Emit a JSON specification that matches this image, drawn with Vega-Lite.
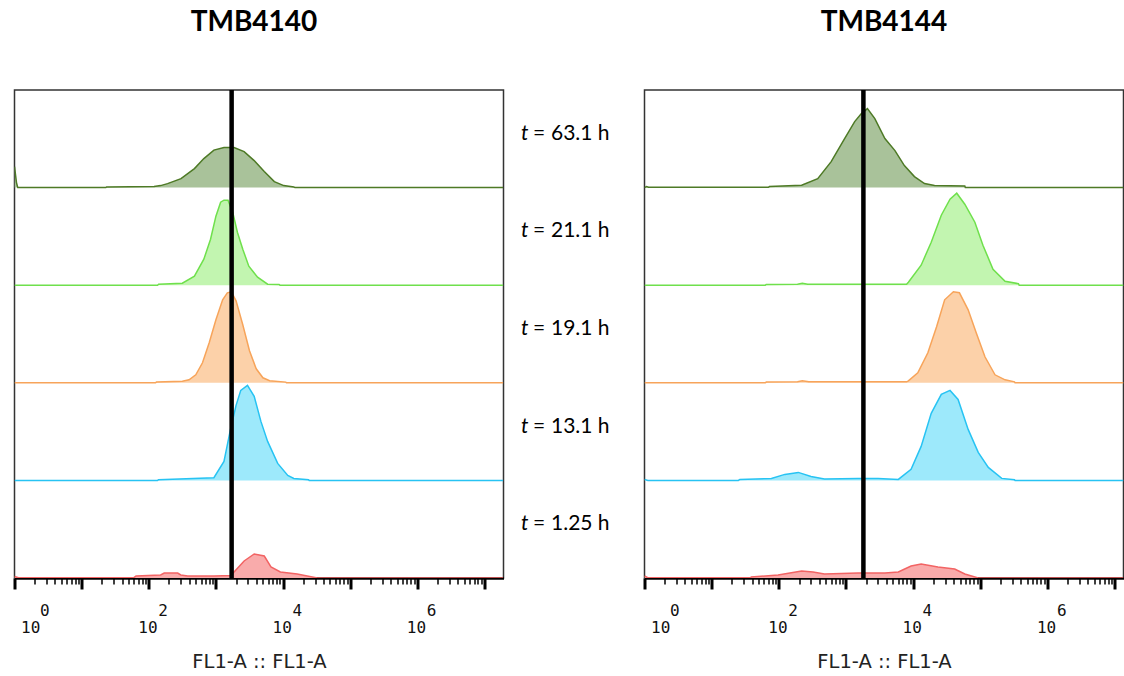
{
  "$schema": "https://vega.github.io/schema/vega-lite/v6.json",
  "padding": {"left": 11.5, "top": 8, "right": 0, "bottom": 0},
  "spacing": 0,
  "bounds": "flush",
  "config": {"view": {"stroke": "#333", "strokeWidth": 1.5}, "font": "Lato"},
  "datasets": {
    "hist": [
      {"panel":"TMB4140","series":"63.1 h","fl1":1,"count":21},
      {"panel":"TMB4140","series":"63.1 h","fl1":1.07,"count":5},
      {"panel":"TMB4140","series":"63.1 h","fl1":1.12,"count":0},
      {"panel":"TMB4140","series":"63.1 h","fl1":22.9,"count":0},
      {"panel":"TMB4140","series":"63.1 h","fl1":23.5,"count":0.7},
      {"panel":"TMB4140","series":"63.1 h","fl1":120,"count":1},
      {"panel":"TMB4140","series":"63.1 h","fl1":150,"count":2},
      {"panel":"TMB4140","series":"63.1 h","fl1":190.5,"count":4},
      {"panel":"TMB4140","series":"63.1 h","fl1":302,"count":9},
      {"panel":"TMB4140","series":"63.1 h","fl1":478.6,"count":19},
      {"panel":"TMB4140","series":"63.1 h","fl1":660.7,"count":29},
      {"panel":"TMB4140","series":"63.1 h","fl1":933,"count":37.5},
      {"panel":"TMB4140","series":"63.1 h","fl1":1318,"count":40},
      {"panel":"TMB4140","series":"63.1 h","fl1":1862,"count":40},
      {"panel":"TMB4140","series":"63.1 h","fl1":2630,"count":36},
      {"panel":"TMB4140","series":"63.1 h","fl1":3715,"count":27},
      {"panel":"TMB4140","series":"63.1 h","fl1":5248,"count":16},
      {"panel":"TMB4140","series":"63.1 h","fl1":7413,"count":6},
      {"panel":"TMB4140","series":"63.1 h","fl1":10233,"count":2},
      {"panel":"TMB4140","series":"63.1 h","fl1":14454,"count":0.7},
      {"panel":"TMB4140","series":"63.1 h","fl1":15000,"count":0},
      {"panel":"TMB4140","series":"63.1 h","fl1":19000000,"count":0},

      {"panel":"TMB4140","series":"21.1 h","fl1":1,"count":0},
      {"panel":"TMB4140","series":"21.1 h","fl1":134.9,"count":0},
      {"panel":"TMB4140","series":"21.1 h","fl1":140,"count":1},
      {"panel":"TMB4140","series":"21.1 h","fl1":316.2,"count":2},
      {"panel":"TMB4140","series":"21.1 h","fl1":478.6,"count":9},
      {"panel":"TMB4140","series":"21.1 h","fl1":660.7,"count":26},
      {"panel":"TMB4140","series":"21.1 h","fl1":831.8,"count":46},
      {"panel":"TMB4140","series":"21.1 h","fl1":1000,"count":69},
      {"panel":"TMB4140","series":"21.1 h","fl1":1175,"count":83},
      {"panel":"TMB4140","series":"21.1 h","fl1":1318,"count":85},
      {"panel":"TMB4140","series":"21.1 h","fl1":1514,"count":85},
      {"panel":"TMB4140","series":"21.1 h","fl1":1778,"count":73},
      {"panel":"TMB4140","series":"21.1 h","fl1":2089,"count":53},
      {"panel":"TMB4140","series":"21.1 h","fl1":2512,"count":36},
      {"panel":"TMB4140","series":"21.1 h","fl1":3090,"count":19},
      {"panel":"TMB4140","series":"21.1 h","fl1":4169,"count":8},
      {"panel":"TMB4140","series":"21.1 h","fl1":5888,"count":1},
      {"panel":"TMB4140","series":"21.1 h","fl1":8710,"count":0.7},
      {"panel":"TMB4140","series":"21.1 h","fl1":9000,"count":0},
      {"panel":"TMB4140","series":"21.1 h","fl1":19000000,"count":0},

      {"panel":"TMB4140","series":"19.1 h","fl1":1,"count":0},
      {"panel":"TMB4140","series":"19.1 h","fl1":125.9,"count":0},
      {"panel":"TMB4140","series":"19.1 h","fl1":130,"count":0.7},
      {"panel":"TMB4140","series":"19.1 h","fl1":316.2,"count":1.5},
      {"panel":"TMB4140","series":"19.1 h","fl1":398.1,"count":3},
      {"panel":"TMB4140","series":"19.1 h","fl1":501.2,"count":8},
      {"panel":"TMB4140","series":"19.1 h","fl1":631,"count":20},
      {"panel":"TMB4140","series":"19.1 h","fl1":794.3,"count":40},
      {"panel":"TMB4140","series":"19.1 h","fl1":1000,"count":63},
      {"panel":"TMB4140","series":"19.1 h","fl1":1259,"count":83},
      {"panel":"TMB4140","series":"19.1 h","fl1":1479,"count":90},
      {"panel":"TMB4140","series":"19.1 h","fl1":1698,"count":91},
      {"panel":"TMB4140","series":"19.1 h","fl1":1995,"count":82},
      {"panel":"TMB4140","series":"19.1 h","fl1":2512,"count":58},
      {"panel":"TMB4140","series":"19.1 h","fl1":3162,"count":32},
      {"panel":"TMB4140","series":"19.1 h","fl1":3981,"count":14},
      {"panel":"TMB4140","series":"19.1 h","fl1":5012,"count":5},
      {"panel":"TMB4140","series":"19.1 h","fl1":6310,"count":2},
      {"panel":"TMB4140","series":"19.1 h","fl1":10965,"count":0.7},
      {"panel":"TMB4140","series":"19.1 h","fl1":11220,"count":0},
      {"panel":"TMB4140","series":"19.1 h","fl1":19000000,"count":0},

      {"panel":"TMB4140","series":"13.1 h","fl1":1,"count":0},
      {"panel":"TMB4140","series":"13.1 h","fl1":134.9,"count":0},
      {"panel":"TMB4140","series":"13.1 h","fl1":140,"count":0.7},
      {"panel":"TMB4140","series":"13.1 h","fl1":933,"count":2.7},
      {"panel":"TMB4140","series":"13.1 h","fl1":1318,"count":19},
      {"panel":"TMB4140","series":"13.1 h","fl1":1660,"count":52},
      {"panel":"TMB4140","series":"13.1 h","fl1":1995,"count":75},
      {"panel":"TMB4140","series":"13.1 h","fl1":2344,"count":90},
      {"panel":"TMB4140","series":"13.1 h","fl1":2951,"count":95},
      {"panel":"TMB4140","series":"13.1 h","fl1":3715,"count":84},
      {"panel":"TMB4140","series":"13.1 h","fl1":4677,"count":59},
      {"panel":"TMB4140","series":"13.1 h","fl1":5888,"count":39},
      {"panel":"TMB4140","series":"13.1 h","fl1":8318,"count":17},
      {"panel":"TMB4140","series":"13.1 h","fl1":11749,"count":5},
      {"panel":"TMB4140","series":"13.1 h","fl1":14454,"count":2},
      {"panel":"TMB4140","series":"13.1 h","fl1":23988,"count":0.7},
      {"panel":"TMB4140","series":"13.1 h","fl1":24500,"count":0},
      {"panel":"TMB4140","series":"13.1 h","fl1":19000000,"count":0},

      {"panel":"TMB4140","series":"1.25 h","fl1":1,"count":1.5},
      {"panel":"TMB4140","series":"1.25 h","fl1":1.15,"count":0.3},
      {"panel":"TMB4140","series":"1.25 h","fl1":60,"count":0.3},
      {"panel":"TMB4140","series":"1.25 h","fl1":64.6,"count":2},
      {"panel":"TMB4140","series":"1.25 h","fl1":150,"count":3},
      {"panel":"TMB4140","series":"1.25 h","fl1":169.8,"count":5},
      {"panel":"TMB4140","series":"1.25 h","fl1":269.2,"count":5},
      {"panel":"TMB4140","series":"1.25 h","fl1":300,"count":3},
      {"panel":"TMB4140","series":"1.25 h","fl1":380.2,"count":2},
      {"panel":"TMB4140","series":"1.25 h","fl1":933,"count":2},
      {"panel":"TMB4140","series":"1.25 h","fl1":1700,"count":2.5},
      {"panel":"TMB4140","series":"1.25 h","fl1":1862,"count":6},
      {"panel":"TMB4140","series":"1.25 h","fl1":2630,"count":17},
      {"panel":"TMB4140","series":"1.25 h","fl1":3715,"count":24},
      {"panel":"TMB4140","series":"1.25 h","fl1":5248,"count":22},
      {"panel":"TMB4140","series":"1.25 h","fl1":6607,"count":11},
      {"panel":"TMB4140","series":"1.25 h","fl1":9120,"count":6},
      {"panel":"TMB4140","series":"1.25 h","fl1":16218,"count":4},
      {"panel":"TMB4140","series":"1.25 h","fl1":25000,"count":1.5},
      {"panel":"TMB4140","series":"1.25 h","fl1":32359,"count":0},
      {"panel":"TMB4140","series":"1.25 h","fl1":19000000,"count":0},

      {"panel":"TMB4144","series":"63.1 h","fl1":1,"count":0},
      {"panel":"TMB4144","series":"63.1 h","fl1":1.07,"count":1},
      {"panel":"TMB4144","series":"63.1 h","fl1":1.15,"count":0.3},
      {"panel":"TMB4144","series":"63.1 h","fl1":70,"count":0.3},
      {"panel":"TMB4144","series":"63.1 h","fl1":72.4,"count":1},
      {"panel":"TMB4144","series":"63.1 h","fl1":218.8,"count":2.3},
      {"panel":"TMB4144","series":"63.1 h","fl1":380.2,"count":9},
      {"panel":"TMB4144","series":"63.1 h","fl1":602.6,"count":26},
      {"panel":"TMB4144","series":"63.1 h","fl1":955,"count":49},
      {"panel":"TMB4144","series":"63.1 h","fl1":1349,"count":66},
      {"panel":"TMB4144","series":"63.1 h","fl1":1698,"count":74},
      {"panel":"TMB4144","series":"63.1 h","fl1":2089,"count":79},
      {"panel":"TMB4144","series":"63.1 h","fl1":2692,"count":69},
      {"panel":"TMB4144","series":"63.1 h","fl1":3802,"count":49},
      {"panel":"TMB4144","series":"63.1 h","fl1":5370,"count":37},
      {"panel":"TMB4144","series":"63.1 h","fl1":7413,"count":22},
      {"panel":"TMB4144","series":"63.1 h","fl1":10471,"count":11},
      {"panel":"TMB4144","series":"63.1 h","fl1":14791,"count":4},
      {"panel":"TMB4144","series":"63.1 h","fl1":20893,"count":2},
      {"panel":"TMB4144","series":"63.1 h","fl1":58884,"count":1.5},
      {"panel":"TMB4144","series":"63.1 h","fl1":60000,"count":0},
      {"panel":"TMB4144","series":"63.1 h","fl1":13600000,"count":0},

      {"panel":"TMB4144","series":"21.1 h","fl1":1,"count":0},
      {"panel":"TMB4144","series":"21.1 h","fl1":63,"count":0},
      {"panel":"TMB4144","series":"21.1 h","fl1":65,"count":0.7},
      {"panel":"TMB4144","series":"21.1 h","fl1":190,"count":1},
      {"panel":"TMB4144","series":"21.1 h","fl1":223.9,"count":2},
      {"panel":"TMB4144","series":"21.1 h","fl1":270,"count":1},
      {"panel":"TMB4144","series":"21.1 h","fl1":8000,"count":1},
      {"panel":"TMB4144","series":"21.1 h","fl1":8511,"count":3},
      {"panel":"TMB4144","series":"21.1 h","fl1":13183,"count":20},
      {"panel":"TMB4144","series":"21.1 h","fl1":18621,"count":43},
      {"panel":"TMB4144","series":"21.1 h","fl1":26303,"count":70},
      {"panel":"TMB4144","series":"21.1 h","fl1":35481,"count":86},
      {"panel":"TMB4144","series":"21.1 h","fl1":44668,"count":92},
      {"panel":"TMB4144","series":"21.1 h","fl1":58884,"count":81},
      {"panel":"TMB4144","series":"21.1 h","fl1":83176,"count":63},
      {"panel":"TMB4144","series":"21.1 h","fl1":109648,"count":40},
      {"panel":"TMB4144","series":"21.1 h","fl1":154882,"count":16},
      {"panel":"TMB4144","series":"21.1 h","fl1":234423,"count":4},
      {"panel":"TMB4144","series":"21.1 h","fl1":370000,"count":1.5},
      {"panel":"TMB4144","series":"21.1 h","fl1":380189,"count":0},
      {"panel":"TMB4144","series":"21.1 h","fl1":13600000,"count":0},

      {"panel":"TMB4144","series":"19.1 h","fl1":1,"count":0},
      {"panel":"TMB4144","series":"19.1 h","fl1":63,"count":0},
      {"panel":"TMB4144","series":"19.1 h","fl1":65,"count":0.7},
      {"panel":"TMB4144","series":"19.1 h","fl1":190,"count":1},
      {"panel":"TMB4144","series":"19.1 h","fl1":223.9,"count":2},
      {"panel":"TMB4144","series":"19.1 h","fl1":280,"count":1},
      {"panel":"TMB4144","series":"19.1 h","fl1":8000,"count":1},
      {"panel":"TMB4144","series":"19.1 h","fl1":8511,"count":2},
      {"panel":"TMB4144","series":"19.1 h","fl1":11749,"count":10},
      {"panel":"TMB4144","series":"19.1 h","fl1":16596,"count":30},
      {"panel":"TMB4144","series":"19.1 h","fl1":22387,"count":56},
      {"panel":"TMB4144","series":"19.1 h","fl1":29512,"count":83},
      {"panel":"TMB4144","series":"19.1 h","fl1":39811,"count":91},
      {"panel":"TMB4144","series":"19.1 h","fl1":48978,"count":90},
      {"panel":"TMB4144","series":"19.1 h","fl1":66069,"count":73},
      {"panel":"TMB4144","series":"19.1 h","fl1":87096,"count":50},
      {"panel":"TMB4144","series":"19.1 h","fl1":117490,"count":26},
      {"panel":"TMB4144","series":"19.1 h","fl1":165959,"count":8},
      {"panel":"TMB4144","series":"19.1 h","fl1":234423,"count":3},
      {"panel":"TMB4144","series":"19.1 h","fl1":323594,"count":1},
      {"panel":"TMB4144","series":"19.1 h","fl1":330000,"count":0},
      {"panel":"TMB4144","series":"19.1 h","fl1":13600000,"count":0},

      {"panel":"TMB4144","series":"13.1 h","fl1":1,"count":1},
      {"panel":"TMB4144","series":"13.1 h","fl1":1.12,"count":0},
      {"panel":"TMB4144","series":"13.1 h","fl1":25,"count":0},
      {"panel":"TMB4144","series":"13.1 h","fl1":26.3,"count":1},
      {"panel":"TMB4144","series":"13.1 h","fl1":77.6,"count":2},
      {"panel":"TMB4144","series":"13.1 h","fl1":123,"count":6},
      {"panel":"TMB4144","series":"13.1 h","fl1":195,"count":8},
      {"panel":"TMB4144","series":"13.1 h","fl1":302,"count":4},
      {"panel":"TMB4144","series":"13.1 h","fl1":478.6,"count":1.5},
      {"panel":"TMB4144","series":"13.1 h","fl1":1514,"count":2},
      {"panel":"TMB4144","series":"13.1 h","fl1":3020,"count":2},
      {"panel":"TMB4144","series":"13.1 h","fl1":6026,"count":1},
      {"panel":"TMB4144","series":"13.1 h","fl1":9333,"count":11},
      {"panel":"TMB4144","series":"13.1 h","fl1":13183,"count":34},
      {"panel":"TMB4144","series":"13.1 h","fl1":18621,"count":67},
      {"panel":"TMB4144","series":"13.1 h","fl1":26303,"count":86},
      {"panel":"TMB4144","series":"13.1 h","fl1":35481,"count":90},
      {"panel":"TMB4144","series":"13.1 h","fl1":46774,"count":81},
      {"panel":"TMB4144","series":"13.1 h","fl1":66069,"count":51},
      {"panel":"TMB4144","series":"13.1 h","fl1":93325,"count":28},
      {"panel":"TMB4144","series":"13.1 h","fl1":131826,"count":13},
      {"panel":"TMB4144","series":"13.1 h","fl1":208930,"count":2},
      {"panel":"TMB4144","series":"13.1 h","fl1":323594,"count":0.7},
      {"panel":"TMB4144","series":"13.1 h","fl1":330000,"count":0},
      {"panel":"TMB4144","series":"13.1 h","fl1":13600000,"count":0},

      {"panel":"TMB4144","series":"1.25 h","fl1":1,"count":2},
      {"panel":"TMB4144","series":"1.25 h","fl1":1.12,"count":0.3},
      {"panel":"TMB4144","series":"1.25 h","fl1":38,"count":0.3},
      {"panel":"TMB4144","series":"1.25 h","fl1":38.9,"count":1},
      {"panel":"TMB4144","series":"1.25 h","fl1":97.7,"count":3},
      {"panel":"TMB4144","series":"1.25 h","fl1":218.8,"count":7},
      {"panel":"TMB4144","series":"1.25 h","fl1":323.6,"count":6},
      {"panel":"TMB4144","series":"1.25 h","fl1":478.6,"count":4},
      {"panel":"TMB4144","series":"1.25 h","fl1":1514,"count":5},
      {"panel":"TMB4144","series":"1.25 h","fl1":3802,"count":5},
      {"panel":"TMB4144","series":"1.25 h","fl1":6026,"count":6},
      {"panel":"TMB4144","series":"1.25 h","fl1":9333,"count":12},
      {"panel":"TMB4144","series":"1.25 h","fl1":13183,"count":14},
      {"panel":"TMB4144","series":"1.25 h","fl1":23442,"count":11},
      {"panel":"TMB4144","series":"1.25 h","fl1":41687,"count":9},
      {"panel":"TMB4144","series":"1.25 h","fl1":58884,"count":4},
      {"panel":"TMB4144","series":"1.25 h","fl1":93325,"count":0},
      {"panel":"TMB4144","series":"1.25 h","fl1":13600000,"count":0}
    ]
  },
  "hconcat": [
    {
      "width": 489,
      "height": 488,
      "title": {"text": "TMB4140", "font": "Lato", "fontSize": 28, "fontWeight": "bold", "color": "#000", "anchor": "middle", "offset": 51, "dx": -5},
      "encoding": {
        "x": {"field": "fl1", "type": "quantitative", "scale": {"type": "log", "domain": [1, 19200000], "nice": false}, "axis": null}
      },
      "layer": [
        {"data": {"name": "hist"}, "transform": [{"filter": "datum.panel === 'TMB4140' && datum.series === '63.1 h'"}],
         "mark": {"type": "area", "color": "#a9c29a", "opacity": 1, "line": {"color": "#4e7a26", "strokeWidth": 1.5}, "clip": true},
         "encoding": {
           "x": {
             "field": "fl1", "type": "quantitative", "scale": {"type": "log", "domain": [1, 19200000], "nice": false},
             "axis": {
               "orient": "bottom",
               "title": "FL1-A :: FL1-A", "titleFont": "DejaVu Sans", "titleFontSize": 19.5, "titleFontWeight": "normal", "titleColor": "#222", "titlePadding": 17,
               "values": [1,2,3,4,5,6,7,8,9,10,20,30,40,50,60,70,80,90,100,200,300,400,500,600,700,800,900,1000,2000,3000,4000,5000,6000,7000,8000,9000,10000,20000,30000,40000,50000,60000,70000,80000,90000,100000,200000,300000,400000,500000,600000,700000,800000,900000,1000000,2000000,3000000,4000000,5000000,6000000,7000000,8000000,9000000,10000000],
               "labelExpr": "abs(log(datum.value)/LN10 - round(log(datum.value)/LN10)) < 0.01 && round(log(datum.value)/LN10) % 2 == 0 ? '10' : ''",
               "labelFont": "DejaVu Sans Mono", "labelFontSize": 16, "labelColor": "#111", "labelAlign": "left", "labelBaseline": "top", "labelPadding": 30, "labelOverlap": false, "labelBound": false, "labelFlush": false,
               "labelOffset": {"condition": {"test": "datum.value < 1.5", "value": 6}, "value": -11},
               "domainColor": "#000", "domainWidth": 2.5, "tickColor": "#000",
               "tickSize": {"condition": {"test": "abs(log(datum.value)/LN10 - round(log(datum.value)/LN10)) < 0.01", "value": 11}, "value": 6},
               "tickWidth": {"condition": {"test": "abs(log(datum.value)/LN10 - round(log(datum.value)/LN10)) < 0.01", "value": 3}, "value": 1.5},
               "grid": false
             }
           },
           "y": {"field": "count", "type": "quantitative", "scale": {"domain": [-390.4, 97.6], "nice": false, "zero": false}, "axis": null}}},
        {"data": {"name": "hist"}, "transform": [{"filter": "datum.panel === 'TMB4140' && datum.series === '21.1 h'"}],
         "mark": {"type": "area", "color": "#c2f5b0", "opacity": 1, "line": {"color": "#6fe04c", "strokeWidth": 1.5}, "clip": true},
         "encoding": {"y": {"field": "count", "type": "quantitative", "scale": {"domain": [-292.8, 195.2], "nice": false, "zero": false}, "axis": null}}},
        {"data": {"name": "hist"}, "transform": [{"filter": "datum.panel === 'TMB4140' && datum.series === '19.1 h'"}],
         "mark": {"type": "area", "color": "#fcd1a9", "opacity": 1, "line": {"color": "#f7a45a", "strokeWidth": 1.5}, "clip": true},
         "encoding": {"y": {"field": "count", "type": "quantitative", "scale": {"domain": [-195.2, 292.8], "nice": false, "zero": false}, "axis": null}}},
        {"data": {"name": "hist"}, "transform": [{"filter": "datum.panel === 'TMB4140' && datum.series === '13.1 h'"}],
         "mark": {"type": "area", "color": "#9de9fb", "opacity": 1, "line": {"color": "#27c3f3", "strokeWidth": 1.5}, "clip": true},
         "encoding": {"y": {"field": "count", "type": "quantitative", "scale": {"domain": [-97.6, 390.4], "nice": false, "zero": false}, "axis": null}}},
        {"data": {"name": "hist"}, "transform": [{"filter": "datum.panel === 'TMB4140' && datum.series === '1.25 h'"}],
         "mark": {"type": "area", "color": "#f9abab", "opacity": 1, "line": {"color": "#f26464", "strokeWidth": 1.5}, "clip": true},
         "encoding": {"y": {"field": "count", "type": "quantitative", "scale": {"domain": [0, 488], "nice": false, "zero": false}, "axis": null}}},
        {"data": {"values": [{"fl1": 1714}]}, "mark": {"type": "rule", "color": "#000", "strokeWidth": 4.5},
         "encoding": {
           "x": {
             "field": "fl1", "type": "quantitative", "scale": {"type": "log", "domain": [1, 19200000], "nice": false},
             "axis": {
               "orient": "bottom",
               "title": null, "values": [1, 100, 10000, 1000000],
               "labelExpr": "'' + round(log(datum.value)/LN10)",
               "labelFont": "DejaVu Sans Mono", "labelFontSize": 16, "labelColor": "#111", "labelAlign": "left", "labelBaseline": "top", "labelPadding": 24, "labelOverlap": false, "labelBound": false, "labelFlush": false,
               "labelOffset": {"condition": {"test": "datum.value < 1.5", "value": 25}, "value": 9},
               "domain": false, "ticks": false, "grid": false
             }
           }
         }}
      ],
      "resolve": {"scale": {"y": "independent"}, "axis": {"x": "independent"}}
    },
    {
      "width": 141,
      "height": 488,
      "view": {"stroke": null},
      "data": {"values": [{"series": "63.1 h"}, {"series": "21.1 h"}, {"series": "19.1 h"}, {"series": "13.1 h"}, {"series": "1.25 h"}]},
      "encoding": {"y": {"field": "series", "type": "nominal", "sort": ["63.1 h", "21.1 h", "19.1 h", "13.1 h", "1.25 h"], "axis": null}},
      "layer": [
        {"mark": {"type": "text", "text": "t", "font": "Lato", "fontSize": 21, "fontStyle": "italic", "align": "left", "baseline": "middle", "dx": -53, "dy": -5, "color": "#000"}},
        {"mark": {"type": "text", "text": "=", "font": "Lato", "fontSize": 21, "align": "left", "baseline": "middle", "dx": -41, "dy": -5, "color": "#000"}},
        {"mark": {"type": "text", "font": "Lato", "fontSize": 21, "align": "left", "baseline": "middle", "dx": -23, "dy": -5, "color": "#000"}, "encoding": {"text": {"field": "series"}}}
      ]
    },
    {
      "width": 479,
      "height": 488,
      "title": {"text": "TMB4144", "font": "Lato", "fontSize": 28, "fontWeight": "bold", "color": "#000", "anchor": "middle", "offset": 51},
      "encoding": {
        "x": {"field": "fl1", "type": "quantitative", "scale": {"type": "log", "domain": [1, 13600000], "nice": false}, "axis": null}
      },
      "layer": [
        {"data": {"name": "hist"}, "transform": [{"filter": "datum.panel === 'TMB4144' && datum.series === '63.1 h'"}],
         "mark": {"type": "area", "color": "#a9c29a", "opacity": 1, "line": {"color": "#4e7a26", "strokeWidth": 1.5}, "clip": true},
         "encoding": {
           "x": {
             "field": "fl1", "type": "quantitative", "scale": {"type": "log", "domain": [1, 13600000], "nice": false},
             "axis": {
               "orient": "bottom",
               "title": "FL1-A :: FL1-A", "titleFont": "DejaVu Sans", "titleFontSize": 19.5, "titleFontWeight": "normal", "titleColor": "#222", "titlePadding": 17,
               "values": [1,2,3,4,5,6,7,8,9,10,20,30,40,50,60,70,80,90,100,200,300,400,500,600,700,800,900,1000,2000,3000,4000,5000,6000,7000,8000,9000,10000,20000,30000,40000,50000,60000,70000,80000,90000,100000,200000,300000,400000,500000,600000,700000,800000,900000,1000000,2000000,3000000,4000000,5000000,6000000,7000000,8000000,9000000,10000000],
               "labelExpr": "abs(log(datum.value)/LN10 - round(log(datum.value)/LN10)) < 0.01 && round(log(datum.value)/LN10) % 2 == 0 ? '10' : ''",
               "labelFont": "DejaVu Sans Mono", "labelFontSize": 16, "labelColor": "#111", "labelAlign": "left", "labelBaseline": "top", "labelPadding": 30, "labelOverlap": false, "labelBound": false, "labelFlush": false,
               "labelOffset": {"condition": {"test": "datum.value < 1.5", "value": 6}, "value": -11},
               "domainColor": "#000", "domainWidth": 2.5, "tickColor": "#000",
               "tickSize": {"condition": {"test": "abs(log(datum.value)/LN10 - round(log(datum.value)/LN10)) < 0.01", "value": 11}, "value": 6},
               "tickWidth": {"condition": {"test": "abs(log(datum.value)/LN10 - round(log(datum.value)/LN10)) < 0.01", "value": 3}, "value": 1.5},
               "grid": false
             }
           },
           "y": {"field": "count", "type": "quantitative", "scale": {"domain": [-390.4, 97.6], "nice": false, "zero": false}, "axis": null}}},
        {"data": {"name": "hist"}, "transform": [{"filter": "datum.panel === 'TMB4144' && datum.series === '21.1 h'"}],
         "mark": {"type": "area", "color": "#c2f5b0", "opacity": 1, "line": {"color": "#6fe04c", "strokeWidth": 1.5}, "clip": true},
         "encoding": {"y": {"field": "count", "type": "quantitative", "scale": {"domain": [-292.8, 195.2], "nice": false, "zero": false}, "axis": null}}},
        {"data": {"name": "hist"}, "transform": [{"filter": "datum.panel === 'TMB4144' && datum.series === '19.1 h'"}],
         "mark": {"type": "area", "color": "#fcd1a9", "opacity": 1, "line": {"color": "#f7a45a", "strokeWidth": 1.5}, "clip": true},
         "encoding": {"y": {"field": "count", "type": "quantitative", "scale": {"domain": [-195.2, 292.8], "nice": false, "zero": false}, "axis": null}}},
        {"data": {"name": "hist"}, "transform": [{"filter": "datum.panel === 'TMB4144' && datum.series === '13.1 h'"}],
         "mark": {"type": "area", "color": "#9de9fb", "opacity": 1, "line": {"color": "#27c3f3", "strokeWidth": 1.5}, "clip": true},
         "encoding": {"y": {"field": "count", "type": "quantitative", "scale": {"domain": [-97.6, 390.4], "nice": false, "zero": false}, "axis": null}}},
        {"data": {"name": "hist"}, "transform": [{"filter": "datum.panel === 'TMB4144' && datum.series === '1.25 h'"}],
         "mark": {"type": "area", "color": "#f9abab", "opacity": 1, "line": {"color": "#f26464", "strokeWidth": 1.5}, "clip": true},
         "encoding": {"y": {"field": "count", "type": "quantitative", "scale": {"domain": [0, 488], "nice": false, "zero": false}, "axis": null}}},
        {"data": {"values": [{"fl1": 1820}]}, "mark": {"type": "rule", "color": "#000", "strokeWidth": 4.5},
         "encoding": {
           "x": {
             "field": "fl1", "type": "quantitative", "scale": {"type": "log", "domain": [1, 13600000], "nice": false},
             "axis": {
               "orient": "bottom",
               "title": null, "values": [1, 100, 10000, 1000000],
               "labelExpr": "'' + round(log(datum.value)/LN10)",
               "labelFont": "DejaVu Sans Mono", "labelFontSize": 16, "labelColor": "#111", "labelAlign": "left", "labelBaseline": "top", "labelPadding": 24, "labelOverlap": false, "labelBound": false, "labelFlush": false,
               "labelOffset": {"condition": {"test": "datum.value < 1.5", "value": 25}, "value": 9},
               "domain": false, "ticks": false, "grid": false
             }
           }
         }}
      ],
      "resolve": {"scale": {"y": "independent"}, "axis": {"x": "independent"}}
    }
  ]
}
